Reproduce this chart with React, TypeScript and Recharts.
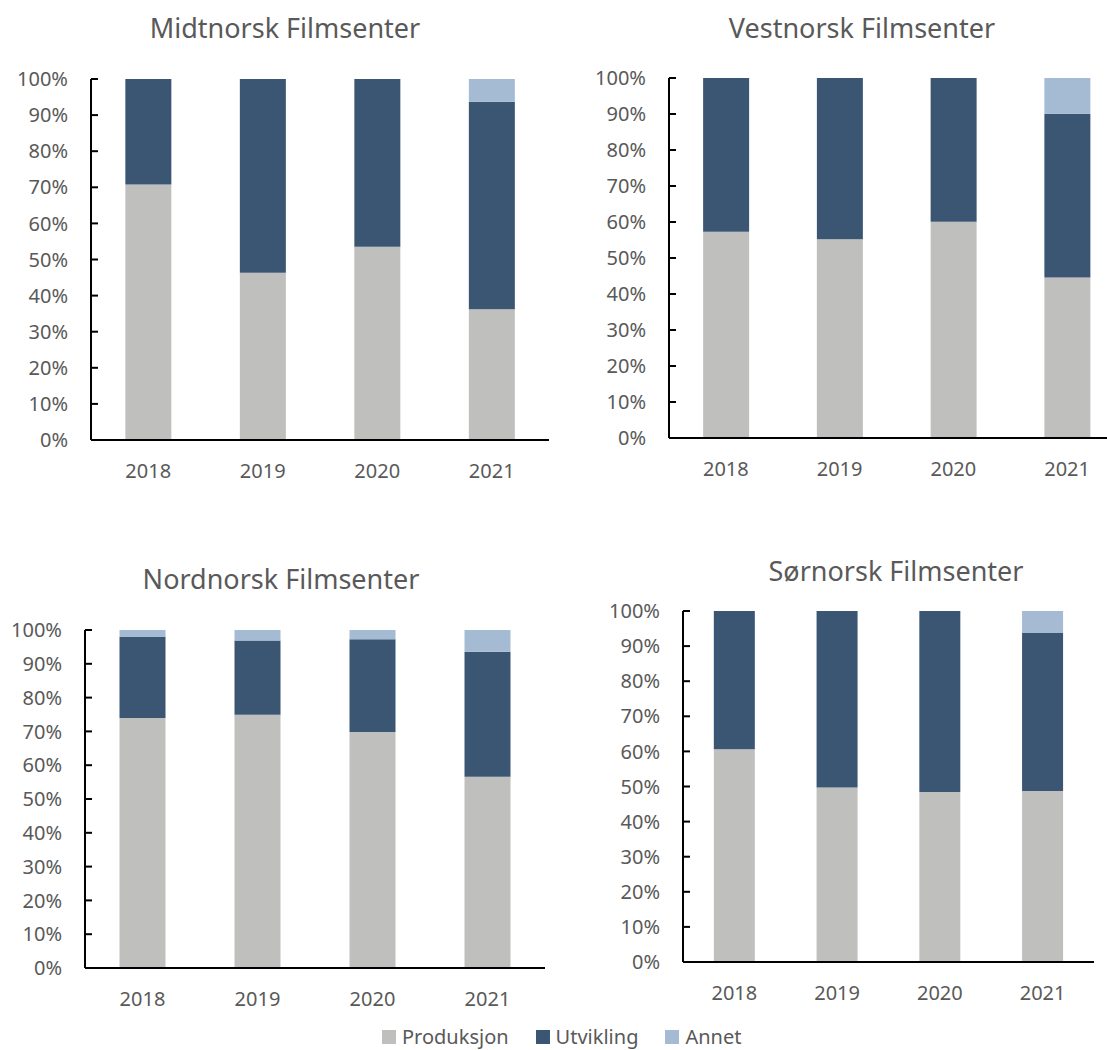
import React from 'react';
import { BarChart, Bar, XAxis, YAxis } from 'recharts';

// category labels
const years = ['2018', '2019', '2020', '2021'];
const yTicks = [0, 10, 20, 30, 40, 50, 60, 70, 80, 90, 100];

// shares in percent
const midtProduksjon = [70.8, 46.3, 53.5, 36.2];
const midtUtvikling = [29.2, 53.7, 46.5, 57.5];
const midtAnnet = [0, 0, 0, 6.3];

const vestProduksjon = [57.3, 55.2, 60.1, 44.6];
const vestUtvikling = [42.7, 44.8, 39.9, 45.5];
const vestAnnet = [0, 0, 0, 9.9];

const nordProduksjon = [74.0, 74.9, 69.8, 56.6];
const nordUtvikling = [23.9, 22.0, 27.5, 37.0];
const nordAnnet = [2.1, 3.1, 2.7, 6.4];

const sorProduksjon = [60.6, 49.7, 48.4, 48.7];
const sorUtvikling = [39.4, 50.3, 51.6, 45.0];
const sorAnnet = [0, 0, 0, 6.3];

const seriesNames = ['Produksjon', 'Utvikling', 'Annet'];
const seriesColors = ['#BFBFBD', '#3A5673', '#A5BBD3'];

const TEXT = '#595959';
const FONT = '"Noto Sans", sans-serif';

const build = (p: number[], u: number[], a: number[]) =>
  years.map((year, i) => ({ year, Produksjon: p[i], Utvikling: u[i], Annet: a[i] }));

const X_H = 60;
const TOP_PAD = 16;

interface PanelProps {
  title: string;
  data: any[];
  plotLeft: number;
  plotTop: number;
  plotWidth: number;
  plotHeight: number;
  titleX: number;
  titleY: number;
}

const Panel: React.FC<PanelProps> = ({ title, data, plotLeft, plotTop, plotWidth, plotHeight, titleX, titleY }) => {
  const right = 10;
  // y axis takes all the room left of the plot
  const yW = plotLeft;
  return (
    <>
      <div
        style={{
          position: 'absolute',
          left: titleX - 200,
          width: 400,
          top: titleY - 18,
          height: 36,
          lineHeight: '36px',
          textAlign: 'center',
          fontFamily: FONT,
          fontSize: 27,
          color: TEXT,
        }}
      >
        {title}
      </div>
      <div style={{ position: 'absolute', left: plotLeft - yW, top: plotTop - TOP_PAD }}>
        <BarChart
          width={plotWidth + yW + right}
          height={plotHeight + TOP_PAD + X_H}
          data={data}
          margin={{ top: TOP_PAD, right, left: 0, bottom: 0 }}
          barCategoryGap="30%"
        >
          <XAxis
            dataKey="year"
            height={X_H}
            tickLine={false}
            tickSize={0}
            tickMargin={24}
            axisLine={{ stroke: '#000', strokeWidth: 2 }}
            tick={{ fill: TEXT, fontSize: 20, fontFamily: FONT }}
          />
          <YAxis
            width={yW}
            domain={[0, 100]}
            ticks={yTicks}
            interval={0}
            allowDataOverflow
            tickSize={-7}
            tickMargin={30}
            tickLine={{ stroke: '#000', strokeWidth: 2 }}
            axisLine={{ stroke: '#000', strokeWidth: 2 }}
            tickFormatter={(v: number) => `${v}%`}
            tick={{ fill: TEXT, fontSize: 20, fontFamily: FONT }}
          />
          {seriesNames.map((name, i) => (
            <Bar key={name} dataKey={name} stackId="a" fill={seriesColors[i]} isAnimationActive={false} />
          ))}
        </BarChart>
      </div>
    </>
  );
};

const Legend: React.FC = () => (
  <div
    style={{
      position: 'absolute',
      left: 382,
      top: 1025,
      display: 'flex',
      alignItems: 'center',
      fontFamily: FONT,
      fontSize: 20,
      color: TEXT,
      lineHeight: '24px',
    }}
  >
    {seriesNames.map((name, i) => (
      <div key={name} style={{ display: 'flex', alignItems: 'center', marginRight: 27 }}>
        <span style={{ width: 14, height: 14, background: seriesColors[i], marginRight: 6, display: 'inline-block' }} />
        <span>{name}</span>
      </div>
    ))}
  </div>
);

export default function App() {
  return (
    <div
      style={{
        position: 'absolute',
        left: 0,
        top: 0,
        width: 1107,
        height: 1050,
        overflow: 'hidden',
        background: '#fff',
      }}
    >
      <Panel
        title="Midtnorsk Filmsenter"
        data={build(midtProduksjon, midtUtvikling, midtAnnet)}
        plotLeft={91}
        plotTop={79}
        plotWidth={458}
        plotHeight={361}
        titleX={285}
        titleY={28}
      />
      <Panel
        title="Vestnorsk Filmsenter"
        data={build(vestProduksjon, vestUtvikling, vestAnnet)}
        plotLeft={669}
        plotTop={78}
        plotWidth={455}
        plotHeight={360}
        titleX={862}
        titleY={28}
      />
      <Panel
        title="Nordnorsk Filmsenter"
        data={build(nordProduksjon, nordUtvikling, nordAnnet)}
        plotLeft={85}
        plotTop={630}
        plotWidth={460}
        plotHeight={338}
        titleX={281}
        titleY={579}
      />
      <Panel
        title="Sørnorsk Filmsenter"
        data={build(sorProduksjon, sorUtvikling, sorAnnet)}
        plotLeft={683}
        plotTop={611}
        plotWidth={411}
        plotHeight={351}
        titleX={896}
        titleY={571}
      />
      <Legend />
    </div>
  );
}
